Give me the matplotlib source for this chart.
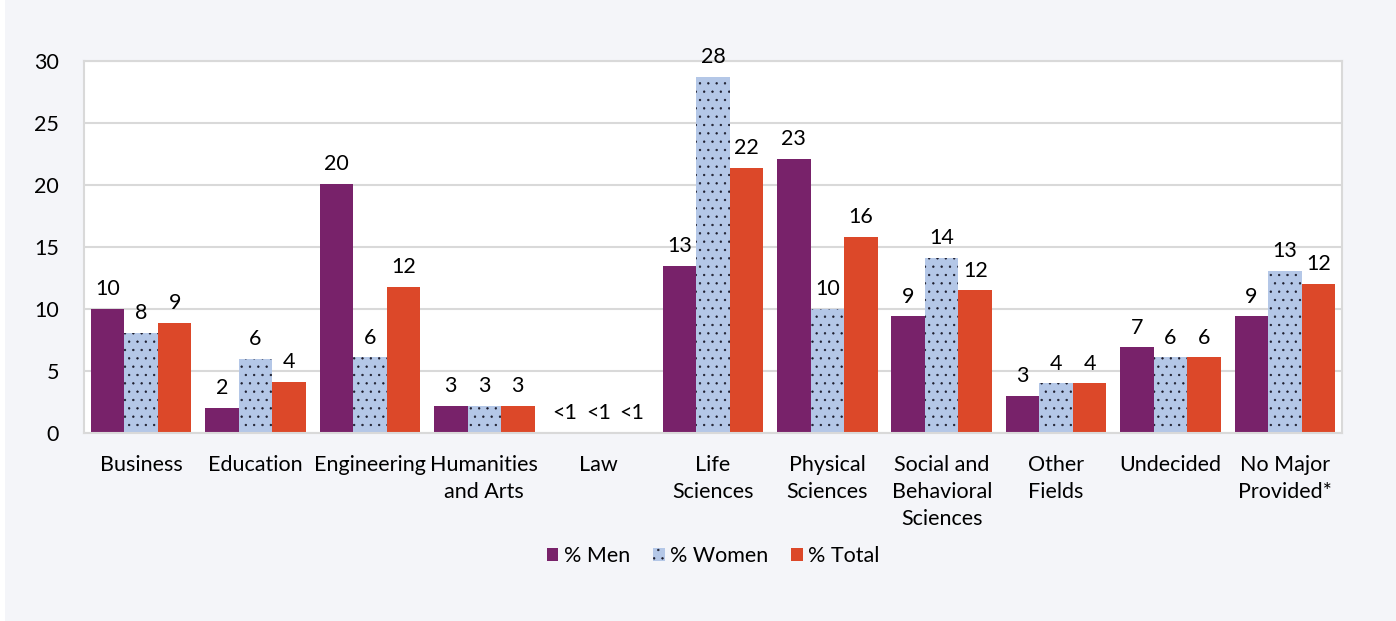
import matplotlib.pyplot as plt
import numpy as np
from matplotlib.patches import Rectangle

plt.rcParams['font.family'] = ['Lato', 'DejaVu Sans']
plt.rcParams['hatch.color'] = '#1a1a2a'
plt.rcParams['hatch.linewidth'] = 0.45

categories = ["Business", "Education", "Engineering", "Humanities\nand Arts", "Law",
              "Life\nSciences", "Physical\nSciences", "Social and\nBehavioral\nSciences",
              "Other\nFields", "Undecided", "No Major\nProvided*"]
men = [10.0, 2.0, 20.1, 2.2, 0.0, 13.5, 22.1, 9.4, 3.0, 6.9, 9.4]
women = [8.1, 6.0, 6.1, 2.2, 0.0, 28.7, 10.0, 14.1, 4.0, 6.1, 13.1]
total = [8.9, 4.1, 11.8, 2.2, 0.0, 21.4, 15.8, 11.5, 4.0, 6.1, 12.0]
men_labels = ["10", "2", "20", "3", "<1", "13", "23", "9", "3", "7", "9"]
women_labels = ["8", "6", "6", "3", "<1", "28", "10", "14", "4", "6", "13"]
total_labels = ["9", "4", "12", "3", "<1", "22", "16", "12", "4", "6", "12"]
series_names = ["% Men", "% Women", "% Total"]

bg = '#f4f5f9'
fig = plt.figure(figsize=(13.96, 6.21), dpi=100, facecolor='white')
fig.patches.append(Rectangle((5 / 1396, 0), 1, 1, transform=fig.transFigure,
                             facecolor=bg, edgecolor='none', zorder=-10))
ax = fig.add_axes([84 / 1396, 1 - 433 / 621, (1342 - 84) / 1396, (433 - 61) / 621])

x = np.arange(len(categories))
w = 0.293
fs = 15.5
b1 = ax.bar(x - w, men, w, color='#78226a', label=series_names[0], zorder=2)
b2 = ax.bar(x, women, w, color='#b4c7e7', hatch='..', edgecolor='#1a1a2a', linewidth=0,
            label=series_names[1], zorder=2)
b3 = ax.bar(x + w, total, w, color='#dc4829', label=series_names[2], zorder=2)

for bars, labs in [(b1, men_labels), (b2, women_labels), (b3, total_labels)]:
    ax.bar_label(bars, labels=labs, padding=7, fontsize=fs, color='black')

ax.set_xlim(-0.5, len(categories) - 0.5)
ax.set_ylim(0, 30)
ax.set_yticks(range(0, 31, 5))
ax.yaxis.grid(True, color='#d9d9d9', linewidth=1.5, zorder=0)
ax.set_axisbelow(True)
for s in ax.spines.values():
    s.set_color('#d9d9d9')
    s.set_linewidth(1.5)
ax.tick_params(axis='both', length=0, labelsize=fs)
ax.tick_params(axis='y', pad=18)
ax.tick_params(axis='x', pad=16)
ax.set_xticks(x)
ax.set_xticklabels(categories, linespacing=1.43)

ax.legend(loc='center', bbox_to_anchor=(0.5, -0.33), ncol=3, frameon=False,
          fontsize=fs, handlelength=0.55, handleheight=0.55, handletextpad=0.25,
          columnspacing=1.05)

fig.savefig('out.png', dpi=100, facecolor=fig.get_facecolor())
